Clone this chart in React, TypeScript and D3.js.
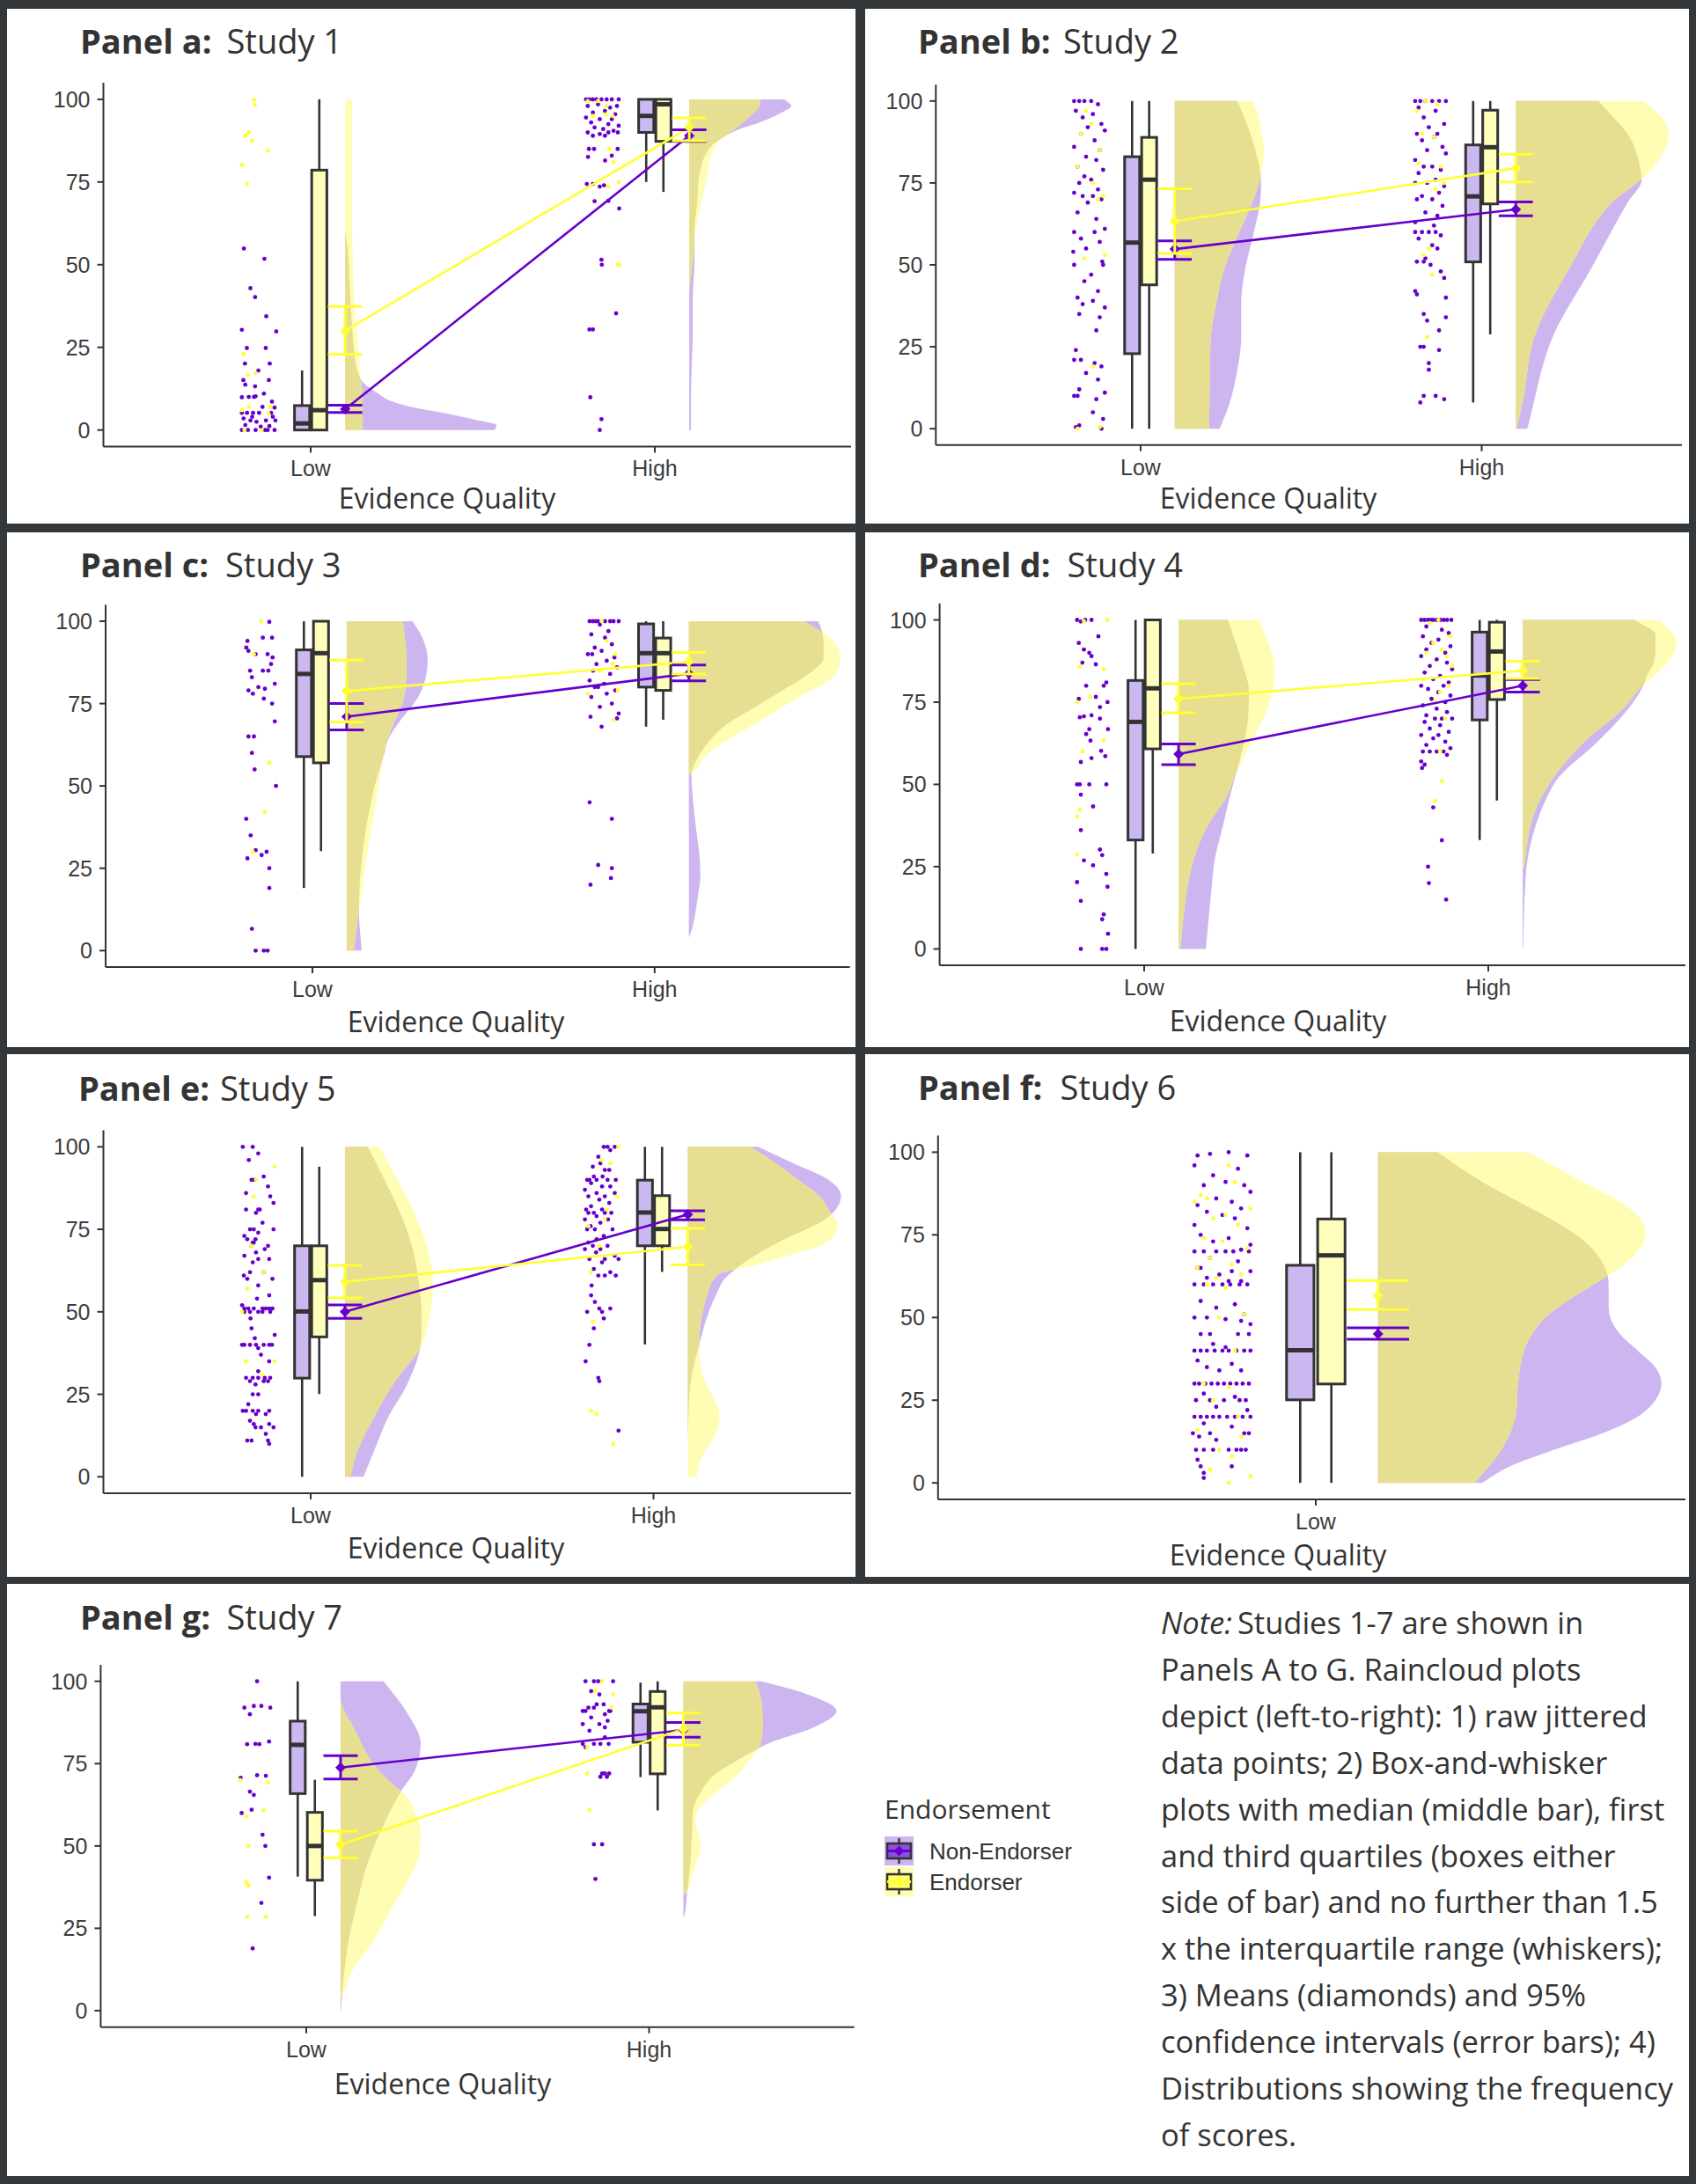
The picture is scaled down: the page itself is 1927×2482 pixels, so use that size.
import React from 'react';
import * as d3 from 'd3';

type P2 = [number, number];

const W = 1927;
const H = 2482;

const CATEGORIES = ['Low', 'High'];
const GROUPS = ['Non-Endorser', 'Endorser'];
const Y_TICKS = [0, 25, 50, 75, 100];
const PANEL_LETTERS = ['a', 'b', 'c', 'd', 'e', 'f', 'g'];
const STUDY_LABELS = ['Study 1', 'Study 2', 'Study 3', 'Study 4', 'Study 5', 'Study 6', 'Study 7'];
const X_TITLE = 'Evidence Quality';
const LEGEND_TITLE = 'Endorsement';
const NOTE_LINES = [
  'Studies 1-7 are shown in',
  'Panels A to G. Raincloud plots',
  'depict (left-to-right): 1) raw jittered',
  'data points; 2) Box-and-whisker',
  'plots with median (middle bar), first',
  'and third quartiles (boxes either',
  'side of bar) and no further than 1.5',
  'x the interquartile range (whiskers);',
  '3) Means (diamonds) and 95%',
  'confidence intervals (error bars); 4)',
  'Distributions showing the frequency',
  'of scores.',
];

// Box stats: [lower whisker, Q1, median, Q3, upper whisker]; order: Low-NonEnd, Low-End, High-NonEnd, High-End
const BOX_A = [[0, 0, 2, 7.4, 18], [0, 0, 6, 78.6, 100], [75, 90, 95, 100, 100], [72, 87.3, 98.5, 100, 100]];
const BOX_B = [[0, 22.9, 56.8, 83, 100], [0, 43.9, 76, 88.9, 100], [8, 50.9, 70.9, 86.6, 100], [28.8, 68.6, 85.9, 97.2, 100]];
const BOX_C = [[19, 58.9, 84, 91.3, 100], [30.2, 57, 90.3, 100, 100], [68, 80, 90.3, 99.2, 100], [70.1, 79, 90.3, 94.9, 100]];
const BOX_D = [[0, 33.1, 69, 81.6, 100], [29, 60.8, 79.2, 100, 100], [33.1, 69.6, 83.1, 96.3, 100], [45.1, 75.8, 90.4, 99.3, 100]];
const BOX_E = [[0, 29.9, 50.1, 70, 100], [25.1, 42.4, 59.6, 70, 94], [40.1, 70, 80.1, 89.9, 100], [62.1, 70, 75.1, 85.2, 100]];
const BOX_F = [[0, 25.1, 40.1, 65.8, 100], [0, 29.9, 68.8, 79.8, 100]];
const BOX_G = [[40.7, 65.9, 80.7, 87.9, 100], [28.7, 39.6, 50, 60.2, 70.1], [70.9, 81.5, 90.9, 93.1, 99.6], [60.8, 71.9, 92.1, 96.9, 100]];

// Means with 95% CI: [mean, lower, upper]
const MEAN_A = [[6.3, 5.3, 7.5], [30, 22.9, 37.4], [89, 87.3, 90.8], [91.5, 87.5, 94.4]];
const MEAN_B = [[54.8, 51.7, 57.3], [63.3, 53.5, 73.2], [66.9, 65, 69.2], [79.5, 75.3, 83.8]];
const MEAN_C = [[71, 67, 75], [78.8, 69.4, 88.2], [84.1, 81.9, 86.7], [87.7, 84, 90.5]];
const MEAN_D = [[59.2, 56, 62.3], [76, 71.8, 80.6], [80, 78.1, 81.9], [84.6, 82.2, 87.4]];
const MEAN_E = [[50, 48, 52.1], [59.1, 54.2, 64.1], [79.5, 77.9, 80.6], [69.7, 64.2, 75.3]];
const MEAN_F = [[45, 43.4, 46.9], [56.6, 52.4, 61.2]];
const MEAN_G = [[73.8, 70.3, 77.4], [50.4, 46.4, 54.5], [85.2, 83, 87.5], [85.5, 80.6, 90.4]];

// Density profiles: [score, density]
const DENS_A: P2[][] = [
  [[0, 170], [1.5, 172], [3, 150], [5, 115], [7, 75], [9, 50], [11, 38], [14, 22], [18, 14], [25, 10], [35, 7], [45, 5], [55, 3], [60, 0]],
  [[0, 20], [10, 20], [15, 18], [20, 16], [25, 15], [30, 13], [40, 10], [50, 9], [60, 8], [100, 8]],
  [[0, 2], [10, 2], [20, 3], [30, 4], [40, 4], [51, 6], [60, 6], [69, 9], [78, 12], [84, 20], [87, 30], [91, 57], [93, 80], [96, 105], [98, 116], [100, 108]],
  [[42, 0], [45, 1.3], [51, 4], [60, 7], [69, 14], [77.6, 21], [84, 26], [87.3, 34], [90.9, 51], [95.3, 71], [98, 80], [100, 81]],
];
const DENS_B: P2[][] = [
  [[0, 51], [7.5, 62], [17.8, 71], [28, 75.5], [38.3, 75.5], [48.6, 80], [58.9, 89], [69.2, 97], [75.3, 98], [84.6, 92], [95, 79], [100, 71]],
  [[0, 39], [17.8, 40], [28, 41], [38, 47], [48.6, 56], [58, 70], [64, 80], [74.3, 95], [84.6, 101], [95, 95], [100, 89]],
  [[0, 13], [28, 42], [48.6, 85], [69, 127], [76, 143], [80, 141], [85, 136], [90, 127], [95, 111], [100, 94]],
  [[0, 1], [10, 9], [28, 21], [48.6, 60], [69, 109], [76, 142], [80, 157], [89.7, 174], [95, 166], [100, 145]],
];
const DENS_C: P2[][] = [
  [[0, 17], [12, 14], [27, 17], [48, 30], [60, 43], [64, 47], [68, 56], [78.4, 84], [88.6, 92], [95, 86], [100, 75]],
  [[0, 8], [12, 14], [27, 22], [48, 35], [63, 45], [68, 52], [78, 66], [88, 68], [100, 64]],
  [[3.9, 0], [7, 4], [17.2, 10.6], [22.3, 13], [27.4, 12.5], [37.6, 8], [47.9, 4], [53.5, 3], [58, 9], [63.2, 22], [68.3, 41], [73.4, 72], [78.5, 103], [83.6, 134], [88.8, 153], [93.9, 153], [98, 150], [100, 147]],
  [[53.5, 4], [54.5, 7], [58, 16], [61.1, 28], [69.3, 78], [76.5, 122], [83.6, 166], [89.8, 172], [95, 160], [100, 131]],
];
const DENS_D: P2[][] = [
  [[0, 31], [17, 37], [27, 41], [37, 50], [47, 59], [52, 64], [60, 72], [68, 78], [78, 80], [88, 71], [100, 56]],
  [[0, 2], [17, 9], [27, 17], [37, 32], [47, 56], [52, 63], [63, 83], [73, 101], [85, 109], [100, 92]],
  [[0, 0.5], [16.7, 2.4], [27, 5.4], [37.2, 14.5], [47.4, 30], [52.5, 42], [62.7, 84], [73, 120], [80, 137], [83, 141], [88, 150], [95.5, 151], [100, 127]],
  [[24.4, 1], [27, 2.4], [37.2, 8.5], [42.3, 14.5], [47.4, 24], [52.5, 36], [62.7, 69], [73, 114], [80, 136], [83.2, 150], [88.3, 168], [93.4, 175], [100, 156]],
];
const DENS_E: P2[][] = [
  [[0, 21], [7.8, 33], [18, 49], [28.2, 71], [40.4, 86], [48.6, 87], [58.8, 84], [69, 77], [79.2, 64], [89.4, 46], [100, 26]],
  [[0, 6], [7.8, 14], [18, 33], [28.2, 55], [39.4, 86], [48.6, 96], [58.8, 100], [69, 94], [79.2, 80], [89.4, 61], [100, 39]],
  [[12, 0], [25, 2], [30, 4], [35, 8], [40, 13], [45, 18], [50, 24], [55, 32], [60, 42], [62, 50], [66, 70], [72, 110], [77, 150], [80, 165], [85, 174], [90, 160], [95, 120], [100, 80]],
  [[0, 10], [3, 12], [8, 20], [12, 30], [17, 36], [20, 35], [25, 27], [30, 18], [35, 14], [40, 13], [45, 14], [50, 17], [55, 22], [60, 30], [62, 40], [64, 75], [66, 100], [70, 150], [74, 168], [77, 170], [80, 162], [85, 150], [90, 125], [95, 100], [100, 71]],
];
const DENS_F: P2[][] = [
  [[0, 118], [5, 150], [10, 200], [15, 255], [20, 295], [25, 315], [30, 322], [35, 315], [40, 295], [45, 275], [50, 264], [55, 262], [60, 262], [65, 258], [70, 246], [75, 225], [80, 195], [85, 160], [90, 125], [95, 95], [100, 68]],
  [[0, 110], [10, 140], [20, 156], [30, 159], [40, 166], [45, 175], [50, 190], [55, 215], [60, 245], [65, 275], [70, 295], [75, 304], [80, 298], [85, 275], [90, 240], [95, 205], [100, 171]],
];
const DENS_G: P2[][] = [
  [[0, 0.5], [9, 3], [21, 9], [33, 19], [45, 31], [57, 50], [66.7, 69], [72.7, 84], [81, 91], [90.7, 75], [100, 49]],
  [[4, 0], [5, 3], [11.7, 12.5], [21, 37], [33, 62], [45, 87], [53.6, 91], [60, 85], [66, 72], [68, 62], [75, 37], [87.1, 12.5], [90, 6], [94, 0]],
  [[28, 0], [30, 2], [35, 4], [40, 6], [45, 8], [50, 9], [55, 10], [60.8, 11], [65.6, 18], [71.5, 35], [75, 55], [78.7, 79], [81.3, 98], [86, 148], [91, 174], [96.5, 136], [100, 89]],
  [[35, 0], [36, 4], [40, 9], [45, 15], [50, 20], [55, 16], [58, 14], [62, 20], [65.6, 34], [68, 45], [71.5, 61], [75, 72], [80, 86], [87, 90], [95, 88], [100, 82]],
];

// Raw points: [jitter (-1..1), score]
const PTS_A: P2[][] = [
  [[-0.88, 54.9], [0.31, 51.8], [-0.5, 42.9], [-0.23, 40.2], [0.42, 34.4], [-1, 30.3], [1, 29.8], [-0.71, 24.8], [0.39, 24.8], [-0.82, 20.1], [0.62, 20.1], [-0.04, 18], [-0.91, 15.1], [0.57, 15.1], [-0.23, 13.2], [-0.8, 13.7], [0.28, 11], [-0.6, 10], [-0.3, 10], [-0.2, 10.2], [-1, 9.9], [0.75, 8.6], [0.9, 6.8], [-1, 5.2], [-0.7, 5.2], [-0.35, 5.2], [0, 5.2], [0.7, 5.2], [-0.5, 2.9], [-0.15, 2.5], [0.4, 2.9], [0.95, 2.9], [-1, 0], [-0.65, 0], [-0.2, 0], [0.35, 0], [0.9, 0], [-0.8, 1.5], [0.1, 1], [0.6, 1.2], [-0.4, 4], [0.2, 7], [-0.9, 3.5], [0.8, 4], [0.5, 0]],
  [[-0.3, 99.9], [-0.25, 98.3], [-0.6, 90], [-0.8, 89], [-0.4, 87.5], [0.5, 84.5], [-1, 80.2], [-0.7, 74.4], [-0.9, 23], [-0.65, 16.7], [-0.2, 17.2], [-1, 6], [-0.6, 7], [0.55, 5], [0.65, 7], [-0.85, 0], [0.15, 0]],
  [[-1, 100], [-0.8, 100], [-0.6, 100], [-0.4, 100], [-0.1, 100], [0.2, 100], [0.5, 100], [0.9, 100], [-0.9, 98], [-0.3, 98.5], [0.4, 97.5], [0.8, 98], [-0.6, 96], [0.1, 96.5], [0.7, 95.5], [-1, 94.5], [-0.2, 94], [0.5, 94], [-0.7, 93], [0.3, 92.5], [0.9, 92], [-0.5, 91.5], [0, 91], [0.6, 90.5], [-0.9, 90], [-0.2, 89.5], [0.3, 90], [0.85, 90], [-0.6, 89], [0.1, 89], [-0.83, 85], [-0.53, 85], [0.84, 85], [-0.88, 82.6], [0.11, 81.5], [0.5, 83], [-0.95, 74.4], [-0.6, 74.4], [-0.2, 73.6], [0.05, 74], [-0.5, 69.2], [0.3, 69.3], [0.93, 67], [-0.1, 51.5], [-0.08, 50], [0.75, 35.3], [-0.8, 30.4], [-0.6, 30.4], [-0.75, 9.9], [-0.1, 3.3], [-0.2, 0]],
  [[-0.9, 99.5], [-0.3, 99.5], [0.2, 98], [-0.6, 95], [0.15, 95.5], [0.55, 95], [0.35, 85], [0.6, 81], [0.9, 75], [0.3, 73.6], [0.85, 50], [0.95, 50]],
];
const PTS_B: P2[][] = [
  [[-0.9, 100], [-0.6, 100], [-0.3, 100], [0.1, 100], [0.5, 99], [-0.8, 97], [0.2, 96], [-0.4, 95], [0.7, 93], [-0.1, 92], [0.9, 91], [-0.5, 90], [0.3, 88], [-0.9, 86], [0.6, 85], [-0.2, 83], [0.4, 82], [-0.7, 80], [0.8, 79], [-0.3, 77], [0.1, 76], [-0.6, 75], [0.5, 73], [-0.9, 72], [-0.4, 71], [0.2, 71], [0.7, 70], [-0.1, 69], [-0.7, 66], [0.4, 64], [0.9, 61], [-0.9, 60], [0.3, 60], [-0.5, 58], [0.6, 57], [-0.2, 55], [-0.95, 54], [0.75, 51], [-0.9, 50], [0.8, 50], [0.1, 47], [-0.3, 45], [0.5, 42], [-0.7, 40], [0.2, 39], [-0.4, 38], [0.9, 37], [-0.6, 35], [0.6, 34], [0.4, 30], [-0.8, 24], [-0.9, 21], [-0.5, 21], [0.3, 20], [0.7, 19], [-0.2, 17], [0.5, 15], [-0.6, 12], [0.9, 11], [-0.9, 10], [-0.7, 10], [0.4, 9], [0.2, 5], [0.8, 3], [-0.6, 1], [0.7, 0], [-0.8, 0.5]],
  [[-0.2, 97], [0.1, 93], [-0.5, 90], [0.6, 85], [-0.7, 80], [0.2, 75], [0.8, 71], [0.5, 70], [-0.3, 52], [0.9, 53], [0.2, 19], [-0.7, 0], [0.6, 0.5]],
  [[-0.9, 100], [-0.6, 100], [-0.3, 100], [0.1, 100], [0.5, 100], [0.9, 100], [-0.7, 98], [0.3, 97], [-0.4, 95], [0.8, 93], [-0.1, 92], [-0.8, 90], [0.4, 90], [0.2, 89], [-0.5, 88], [0.7, 86], [-0.2, 85], [0.9, 84], [-0.9, 82], [0.1, 80], [-0.4, 80], [0.6, 79], [-0.7, 78], [0.3, 76], [-0.9, 75], [-0.2, 75], [0.8, 74], [0.5, 72], [-0.5, 71], [-0.8, 70], [0.1, 70], [0.7, 68], [-0.3, 66], [0.4, 65], [-0.9, 63], [0.2, 62], [-0.9, 60], [-0.5, 60], [-0.1, 60], [0.3, 60], [0.6, 59], [-0.7, 58], [0.1, 56], [0.4, 55], [-0.3, 52], [-0.8, 51], [-0.4, 51], [0, 50], [0.6, 48], [0.8, 46], [-0.9, 42], [-0.8, 41], [0.9, 40], [-0.4, 35], [0.9, 34], [-0.2, 33], [0.5, 30], [-0.6, 25], [-0.4, 25], [0.5, 24], [-0.1, 20], [-0.1, 18], [0.3, 10], [-0.4, 10], [0.8, 9], [-0.6, 8]],
  [[-0.3, 100], [0.4, 99], [-0.8, 97], [-0.5, 90], [0.2, 89], [-0.7, 81], [0.6, 80], [0.8, 75], [0.3, 73], [-0.1, 55], [-0.4, 53], [0.1, 47], [-0.2, 28]],
];
const PTS_C: P2[][] = [
  [[0.48, 99.8], [0.1, 95], [0.64, 95], [-0.8, 94], [-0.87, 92], [-0.74, 91], [0.38, 90], [-0.32, 90], [0.67, 89], [0.58, 87], [-0.64, 85], [0.1, 85], [0.42, 85], [-0.54, 83], [-0.16, 80], [0.22, 79.5], [-0.74, 79], [-0.48, 78], [0.8, 81], [0.16, 76.5], [0.64, 75], [0.8, 69.6], [-0.74, 65], [-0.42, 65], [-0.54, 60], [-0.38, 55], [0.87, 50], [-0.87, 40], [-0.61, 35], [-0.8, 28], [0.03, 29], [0.32, 30], [-0.32, 30.5], [0.48, 25], [0.48, 19], [-0.54, 6.6], [-0.32, 0], [0.16, 0], [0.38, 0]],
  [[0, 100], [-0.42, 90], [0.48, 57], [0.22, 42], [-0.48, 30]],
  [[-0.8, 100], [-0.6, 100], [-0.45, 100], [-0.3, 100], [0.1, 100], [0.4, 100], [0.6, 100], [0.9, 100], [-0.2, 99], [0.3, 97], [-0.7, 96], [0.1, 95], [0.5, 93], [-0.5, 92], [-0.1, 91], [-0.9, 90], [-0.65, 90], [0.65, 89], [0.2, 88], [-0.4, 87], [0.8, 86], [-0.6, 85], [0.4, 84], [-0.8, 82], [0.05, 81], [-0.5, 80], [-0.3, 80], [0.7, 79], [0.2, 78], [-0.7, 77], [0.5, 75], [-0.2, 74], [0.9, 72], [-0.75, 71], [0.8, 70.5], [-0.1, 68], [-0.8, 45], [0.5, 40], [-0.3, 26], [0.5, 25], [0.45, 22], [-0.75, 20]],
  [[-0.1, 100], [0.2, 94], [0.7, 90], [0.55, 87], [-0.2, 85], [0.85, 79], [-0.9, 78], [0.6, 70]],
];
const PTS_D: P2[][] = [
  [[-0.9, 100], [-0.68, 99.5], [-0.43, 100], [-0.06, 100], [0.34, 95], [-0.8, 93], [-0.5, 91], [-0.19, 90], [-0.06, 89], [-0.59, 87], [0.19, 86.5], [-0.37, 80], [0.65, 80], [0.8, 81], [-0.8, 76], [0.19, 76.6], [0.87, 75], [0.43, 73.5], [-0.74, 70.4], [-0.5, 70.7], [-0.06, 71], [0.43, 70], [-0.19, 66.8], [0.9, 66.8], [-0.37, 65.3], [-0.12, 63.3], [0.5, 60.2], [0.74, 58.6], [-0.68, 56.8], [-0.06, 58], [-0.9, 50], [-0.74, 50], [-0.19, 50], [0.8, 50], [-0.68, 46.9], [0.03, 43.3], [-0.68, 36.1], [0.43, 30.2], [-0.5, 26.9], [0.03, 25.4], [0.56, 28.5], [0.8, 22.8], [-0.9, 20.3], [0.87, 18.9], [-0.68, 14.6], [0.65, 10.5], [0.56, 9], [0.9, 4.6], [-0.68, 0], [0.56, 0], [0.8, 0]],
  [[0.87, 100], [-0.5, 99.6], [0.65, 85], [-0.74, 85.8], [-0.12, 76.6], [-0.9, 75], [0.65, 63.3], [-0.59, 60], [-0.9, 40.2], [-0.74, 42.3], [-0.9, 28.7]],
  [[-0.9, 100], [-0.7, 100], [-0.5, 100], [-0.35, 100], [-0.2, 100], [0, 100], [0.2, 100], [0.4, 100], [0.6, 100], [0.85, 100], [-0.6, 98], [0.3, 97], [0.7, 96], [-0.8, 95], [0.1, 94], [-0.3, 93], [0.8, 92], [-0.6, 91], [0.5, 90], [-0.9, 89], [0, 88], [0.6, 87], [-0.4, 86], [0.9, 85], [-0.7, 84], [0.2, 83], [-0.2, 82], [0.7, 81], [-0.9, 80], [0.4, 80], [-0.5, 79], [0.1, 78], [0.8, 77], [-0.3, 76], [0.5, 75], [-0.8, 74], [0, 73], [0.6, 72], [-0.6, 71], [0.3, 70], [-0.1, 70], [0.9, 70], [-0.7, 69], [0.2, 68], [-0.4, 67], [0.7, 66], [-0.9, 65], [0.1, 65], [-0.2, 64], [0.5, 63], [-0.6, 62], [0.8, 61], [-0.8, 60], [-0.4, 60], [0, 60], [0.4, 60], [0.6, 59], [-0.9, 57], [-0.7, 56], [-0.85, 55], [-0.2, 43], [0.3, 33], [-0.5, 25], [-0.45, 20], [0.55, 15]],
  [[0.1, 100], [-0.4, 99], [0.8, 95], [-0.2, 93], [0.3, 91], [-0.6, 90], [0.6, 89], [0.9, 86], [-0.8, 82], [0.7, 80], [0.2, 78], [-0.1, 75], [0.5, 70], [0.2, 60], [0.3, 51], [-0.1, 45]],
];
const PTS_E: P2[][] = [
  [[-0.96, 100], [-0.38, 100], [-0.06, 98], [-0.61, 96], [0.26, 91], [-0.45, 90], [-0.32, 90], [0.51, 88], [-0.77, 86], [0.64, 85], [0.83, 83], [-0.77, 81], [-0.06, 81], [0.03, 81], [-0.19, 80], [0.19, 77], [-0.54, 75], [-0.32, 75], [0.83, 75], [-0.06, 74], [-0.87, 73], [-0.7, 72], [-0.22, 72], [-0.38, 71], [-0.32, 71], [-0.45, 70], [0.51, 70], [0.32, 69], [-0.19, 68], [-0.87, 67], [-0.06, 66], [0.58, 66], [-0.38, 65], [0.26, 62], [-0.54, 62], [-0.9, 61], [-0.7, 60], [0.77, 60], [-0.06, 58], [0.58, 55], [-0.13, 54], [-1, 52], [-0.87, 51], [-0.64, 51], [-0.32, 51], [0.19, 51], [0.38, 51], [0.58, 51], [0.77, 51], [-0.87, 50], [-0.54, 50], [-0.06, 50], [0.19, 50], [0.64, 50], [-0.51, 48], [-0.45, 45], [0.9, 43], [-0.26, 42], [-1, 40], [-0.87, 40], [-0.54, 40], [-0.19, 40], [0.26, 40], [0.58, 40], [0.74, 40], [-0.06, 39], [0.1, 37], [0.58, 35], [-0.06, 32], [-0.77, 30], [-0.38, 30], [-0.06, 30], [0.32, 30], [0.64, 30], [-0.54, 29], [0.26, 29], [0.51, 29], [-0.22, 28], [-0.38, 25], [-0.06, 25], [-0.64, 22], [-0.96, 20], [-0.77, 20], [-0.38, 20], [-0.06, 20], [0.58, 20], [-0.19, 19], [0.38, 19], [-0.54, 17], [-0.32, 16], [0.58, 16], [-0.22, 15], [0.1, 15], [0.83, 15], [0.38, 13], [-0.7, 11], [-0.45, 11], [0.51, 11], [0.58, 10]],
  [[0.9, 94], [-0.19, 90], [-0.32, 85], [-0.45, 70], [0.26, 62], [-0.7, 57], [-1, 50], [-0.77, 35], [0.19, 31], [0.9, 35]],
  [[0.1, 100], [0.32, 100], [0.74, 100], [0.48, 99], [-0.22, 97], [-0.1, 95], [-0.54, 94], [0.16, 93], [0.42, 93], [-0.48, 91], [0.03, 91], [-0.87, 90], [-0.74, 90], [-0.32, 90], [0.32, 90], [0.8, 90], [-0.64, 89], [0, 88], [0.48, 88], [-1, 87], [-0.32, 86], [0.74, 86], [-0.8, 85], [0.16, 85], [-0.16, 84], [0.42, 83], [-0.64, 82], [-0.93, 81], [0, 81], [-0.8, 80], [-0.48, 80], [0.16, 80], [0.54, 80], [-0.32, 79], [-1, 78], [0.35, 78], [-0.1, 77], [-0.67, 76], [-0.87, 75], [-0.42, 75], [0.61, 75], [0.1, 73], [-0.32, 72], [-0.8, 71], [-0.54, 70], [0.32, 70], [-1, 69], [-0.1, 69], [-0.35, 68], [0.74, 67], [-0.74, 66], [0.16, 66], [0.96, 66], [0, 65], [-0.48, 63], [0.48, 62], [-0.22, 61], [0.16, 61], [0.8, 61], [-0.61, 58], [-0.64, 55], [-0.42, 53], [-0.16, 51], [0.48, 51], [-0.87, 50], [0, 50], [0.1, 48], [-0.48, 45], [-0.74, 40], [-0.96, 35], [-0.22, 30], [-0.16, 29], [0.96, 14]],
  [[0.96, 100], [-0.03, 96], [0.48, 95], [0.87, 85], [0.29, 81], [0.16, 78], [-0.8, 76], [-0.16, 70], [-0.64, 62], [-0.54, 47], [-0.64, 20], [-0.32, 19], [0.64, 10]],
];
const PTS_F: P2[][] = [
  [[-0.8, 99], [-0.4, 99.5], [0.2, 100], [0.8, 99], [-0.9, 96], [0.5, 95], [-0.3, 93], [0.1, 91], [-0.6, 90], [0.7, 90], [0.9, 88], [-0.2, 86], [0.3, 85], [-0.8, 84], [0.6, 83], [-0.5, 82], [0, 81], [0.4, 80], [-0.9, 78], [0.8, 77], [-0.7, 75], [0.2, 74], [-0.3, 73], [0.9, 72], [-0.9, 70], [-0.6, 70], [-0.2, 70], [0.1, 70], [0.35, 70], [0.6, 70.5], [0.85, 70], [-0.4, 68], [0.5, 67], [-0.8, 65], [-0.7, 65], [0.3, 64], [0.9, 64], [-0.1, 63], [-0.5, 62], [0.2, 61], [0.6, 61], [-0.9, 60], [-0.6, 60], [-0.3, 60], [0, 60], [0.25, 60], [0.55, 60], [0.8, 60], [-0.7, 55], [0.4, 54], [-0.2, 53], [0.7, 51], [-0.9, 50], [-0.5, 50], [0.1, 49.5], [0.6, 49], [0.9, 48], [-0.7, 45], [-0.4, 45], [0.5, 45], [0.85, 45], [-0.3, 42], [0.1, 41], [-0.9, 40], [-0.7, 40], [-0.5, 40], [-0.25, 40], [0, 40], [0.2, 40], [0.45, 40], [0.7, 40], [0.9, 40], [-0.8, 37], [0.3, 36], [-0.5, 35], [0.6, 34], [-0.1, 34], [-0.9, 30], [-0.75, 30], [-0.55, 30], [-0.35, 30], [-0.15, 30], [0.05, 30], [0.25, 30], [0.45, 30], [0.65, 30], [0.85, 30], [-0.6, 27], [0.4, 26], [-0.85, 25], [-0.4, 25], [0.05, 25], [0.55, 25], [0.75, 25], [-0.2, 23], [0.8, 22], [-0.9, 20], [-0.7, 20], [-0.5, 20], [-0.3, 20], [-0.1, 20], [0.15, 20], [0.4, 20], [0.65, 20], [0.9, 20], [-0.6, 18], [0.3, 17], [-0.95, 15], [-0.4, 15], [0.7, 15], [0.85, 15], [-0.75, 14], [-0.2, 13], [-0.85, 10], [-0.6, 10], [-0.3, 10], [0.2, 10], [0.45, 10], [0.6, 10], [0.75, 10], [-0.8, 7], [-0.7, 5], [0.3, 5], [-0.6, 3], [-0.6, 1.5]],
  [[0.2, 96], [-0.7, 87], [-0.5, 86], [0.4, 91], [-0.3, 80], [0.1, 81], [0.5, 78], [-0.9, 85], [0.9, 83], [-0.6, 74], [0, 73], [0.8, 71], [-0.4, 68], [0.3, 66], [-0.8, 65], [0.6, 63], [-0.2, 62], [0.1, 59], [-0.5, 60], [0.7, 51], [-0.1, 50], [0.4, 40], [-0.6, 30], [0.2, 29], [-0.3, 25], [0.5, 20], [-0.8, 16], [0.6, 14], [-0.1, 10], [0.3, 8], [-0.4, 4], [0.9, 2], [0.2, 0]],
];
const PTS_G: P2[][] = [
  [[0.13, 100], [-0.61, 92], [-0.06, 92.5], [0.38, 92.5], [0.9, 92], [-0.29, 90], [-0.45, 80.9], [0.03, 81], [0.26, 80.9], [0.83, 81.7], [0.13, 71.5], [0.64, 71.3], [-0.83, 70.7], [-0.29, 66.5], [-0.06, 65.5], [-0.77, 60], [-0.19, 61], [0.45, 53.4], [0.61, 50], [0.83, 40.4], [0.38, 32.7], [-0.13, 18.9]],
  [[-0.86, 70], [0.77, 69.4], [-0.51, 59], [0.51, 60.8], [-0.38, 50], [-0.51, 39], [-0.38, 38], [-0.45, 28.5], [0.64, 28.5]],
  [[-0.71, 100], [-0.22, 100], [0.03, 100], [0.9, 100], [-0.38, 97], [0.1, 96], [0.35, 93], [-0.06, 93], [-0.54, 92], [-0.22, 92], [-0.87, 91], [-0.71, 91], [0.74, 91], [0.67, 91], [0.42, 90], [-0.38, 89], [0.58, 88], [-0.87, 87], [0.1, 87], [0.42, 86], [-0.48, 85], [0.42, 83], [-0.87, 81], [-0.22, 81], [0.16, 81], [0.64, 81], [-0.71, 80], [0.26, 72], [0.42, 72], [0.67, 72], [0.16, 71], [0.54, 71], [-0.22, 50.5], [0.26, 50.5], [-0.13, 40]],
  [[0.26, 100], [-0.13, 97], [0.9, 96], [0.8, 92], [-0.61, 80], [-0.61, 72], [-0.48, 61]],
];

// ---- styling ----
const COL = {
  bg: '#35383a',
  text: '#333333',
  tick: '#3c3c3c',
  axis: '#333333',
  purple: '#6600cc',
  yellow: '#ffff33',
  pBox: '#ccb8f0',
  yBox: '#ffffbb',
  pViol: '#cdb6f0',
  yViol: '#fffdb4',
  both: '#e6de90',
};
const SANS = "'Open Sans', 'Noto Sans', sans-serif";
const ARIAL = "'Liberation Sans', Arial, sans-serif";

interface Layout {
  left: number; right: number; y0: number; y100: number;
  lowX: number; u: number; cats: number;
  titleX: number; studyX: number; titleY: number;
  xtX: number; xtY: number; densRef: number;
  box: number[][]; mean: number[][]; dens: P2[][]; pts: P2[][];
}

const LAYOUTS: Layout[] = [
  { left: 117.5, right: 967, y0: 488.7, y100: 112.9, lowX: 353, u: 391, cats: 2, titleX: 91, studyX: 257.5, titleY: 61, xtX: 508, xtY: 578, densRef: 391, box: BOX_A, mean: MEAN_A, dens: DENS_A, pts: PTS_A },
  { left: 1063.3, right: 1911, y0: 487.2, y100: 114.8, lowX: 1296, u: 387.5, cats: 2, titleX: 1043, studyX: 1208, titleY: 61, xtX: 1441, xtY: 578, densRef: 387.5, box: BOX_B, mean: MEAN_B, dens: DENS_B, pts: PTS_B },
  { left: 120, right: 965.6, y0: 1080.3, y100: 706, lowX: 355, u: 388.8, cats: 2, titleX: 91, studyX: 256, titleY: 656, xtX: 518, xtY: 1173, densRef: 388.8, box: BOX_C, mean: MEAN_C, dens: DENS_C, pts: PTS_C },
  { left: 1067.6, right: 1915, y0: 1078.4, y100: 704.5, lowX: 1300, u: 391, cats: 2, titleX: 1043, studyX: 1212.5, titleY: 656, xtX: 1452, xtY: 1172, densRef: 391, box: BOX_D, mean: MEAN_D, dens: DENS_D, pts: PTS_D },
  { left: 117.5, right: 967, y0: 1678.3, y100: 1303.3, lowX: 353, u: 389.5, cats: 2, titleX: 89, studyX: 250, titleY: 1250.5, xtX: 518, xtY: 1771, densRef: 389.5, box: BOX_E, mean: MEAN_E, dens: DENS_E, pts: PTS_E },
  { left: 1065.8, right: 1915, y0: 1685.2, y100: 1309.4, lowX: 1495, u: 707, cats: 1, titleX: 1043, studyX: 1204.6, titleY: 1250, xtX: 1452, xtY: 1779, densRef: 707, box: BOX_F, mean: MEAN_F, dens: DENS_F, pts: PTS_F },
  { left: 114.4, right: 970.6, y0: 2285, y100: 1910.7, lowX: 348, u: 389.5, cats: 2, titleX: 91, studyX: 257.5, titleY: 1851.6, xtX: 503, xtY: 2380, densRef: 389.5, box: BOX_G, mean: MEAN_G, dens: DENS_G, pts: PTS_G },
];

const WHITE_RECTS = [
  [8, 10, 964, 585], [983, 10, 936, 585],
  [8, 605, 964, 585], [983, 605, 936, 585],
  [8, 1198, 964, 594], [983, 1198, 936, 594],
  [8, 1800, 1911, 673],
];

// monotone cubic interpolation (Fritsch-Carlson)
function monotone(pts: P2[]) {
  const n = pts.length;
  const xs = pts.map((p) => p[0]);
  const ys = pts.map((p) => p[1]);
  if (n === 1) return () => ys[0];
  const d: number[] = [];
  const m: number[] = new Array(n).fill(0);
  for (let i = 0; i < n - 1; i++) d.push((ys[i + 1] - ys[i]) / (xs[i + 1] - xs[i]));
  m[0] = d[0];
  m[n - 1] = d[n - 2];
  for (let i = 1; i < n - 1; i++) m[i] = d[i - 1] * d[i] <= 0 ? 0 : (d[i - 1] + d[i]) / 2;
  for (let i = 0; i < n - 1; i++) {
    if (d[i] === 0) { m[i] = 0; m[i + 1] = 0; continue; }
    const a = m[i] / d[i];
    const b = m[i + 1] / d[i];
    const s = a * a + b * b;
    if (s > 9) {
      const t = 3 / Math.sqrt(s);
      m[i] = t * a * d[i];
      m[i + 1] = t * b * d[i];
    }
  }
  return (v: number) => {
    if (v <= xs[0]) return ys[0];
    if (v >= xs[n - 1]) return ys[n - 1];
    let i = 0;
    while (v > xs[i + 1]) i++;
    const h = xs[i + 1] - xs[i];
    const t = (v - xs[i]) / h;
    const t2 = t * t;
    const t3 = t2 * t;
    return (2 * t3 - 3 * t2 + 1) * ys[i] + (t3 - 2 * t2 + t) * h * m[i] + (-2 * t3 + 3 * t2) * ys[i + 1] + (t3 - t2) * h * m[i + 1];
  };
}

function areaPath(lo: number, hi: number, f: (v: number) => number, x0: number, k: number, y: (v: number) => number) {
  if (hi <= lo) return '';
  const steps = Math.max(2, Math.ceil((hi - lo) / 0.25));
  const pts: [number, number][] = [];
  for (let i = 0; i <= steps; i++) {
    const v = lo + ((hi - lo) * i) / steps;
    pts.push([x0 + Math.max(0, f(v)) * k, y(v)]);
  }
  const line = d3.line();
  const full: [number, number][] = [[x0, y(lo)], ...pts, [x0, y(hi)]];
  return line(full) + 'Z';
}

function Violins({ pd, yd, x0, k, y }: { pd: P2[]; yd: P2[]; x0: number; k: number; y: (v: number) => number }) {
  const fp = monotone(pd);
  const fy = monotone(yd);
  const pLo = pd[0][0], pHi = pd[pd.length - 1][0];
  const yLo = yd[0][0], yHi = yd[yd.length - 1][0];
  const bLo = Math.max(pLo, yLo), bHi = Math.min(pHi, yHi);
  return (
    <g>
      <path d={areaPath(pLo, pHi, fp, x0, k, y)} fill={COL.pViol} />
      <path d={areaPath(yLo, yHi, fy, x0, k, y)} fill={COL.yViol} />
      <path d={areaPath(bLo, bHi, (v) => Math.min(fp(v), fy(v)), x0, k, y)} fill={COL.both} />
    </g>
  );
}

function Panel({ L, idx }: { L: Layout; idx: number }) {
  const x = d3.scaleLinear().domain([1, 2]).range([L.lowX, L.lowX + L.u]);
  const y = d3.scaleLinear().domain([0, 100]).range([L.y0, L.y100]);
  const u = L.u;
  const k = u / L.densRef;
  const axisY = y(-5);
  const topY = y(105);
  const cats = CATEGORIES.slice(0, L.cats);
  const ptR = 2.4;
  const boxW = 0.044 * u;
  const meanOff = 0.1 * u;
  const capHalf = 0.05 * u;

  const diamond = (cx: number, cy: number, s: number) => `M${cx},${cy - s}L${cx + s},${cy}L${cx},${cy + s}L${cx - s},${cy}Z`;

  return (
    <g>
      {cats.map((c, ci) => (
        <Violins key={'v' + c} pd={L.dens[ci * 2]} yd={L.dens[ci * 2 + 1]} x0={x(ci + 1) + meanOff} k={k} y={y} />
      ))}
      {cats.map((c, ci) => (
        <g key={'p' + c}>
          {[0, 1].map((g) => (
            <g key={g} fill={g === 0 ? COL.purple : COL.yellow}>
              {L.pts[ci * 2 + g].map((p, i) => (
                <circle key={i} cx={x(ci + 1) - 0.15 * u + p[0] * 0.05 * u} cy={y(p[1])} r={ptR} />
              ))}
            </g>
          ))}
        </g>
      ))}
      {cats.map((c, ci) => (
        <g key={'b' + c}>
          {[0, 1].map((g) => {
            const s = L.box[ci * 2 + g];
            const cx = x(ci + 1) + (g === 0 ? -0.025 : 0.025) * u;
            return (
              <g key={g}>
                <line x1={cx} x2={cx} y1={y(s[0])} y2={y(s[1])} stroke={COL.axis} strokeWidth={2.6} />
                <line x1={cx} x2={cx} y1={y(s[3])} y2={y(s[4])} stroke={COL.axis} strokeWidth={2.6} />
                <rect x={cx - boxW / 2} y={y(s[3])} width={boxW} height={Math.max(0.5, y(s[1]) - y(s[3]))}
                  fill={g === 0 ? COL.pBox : COL.yBox} stroke={COL.axis} strokeWidth={3} />
                <line x1={cx - boxW / 2} x2={cx + boxW / 2} y1={y(s[2])} y2={y(s[2])} stroke={COL.axis} strokeWidth={5} />
              </g>
            );
          })}
        </g>
      ))}
      {L.cats === 2 && [0, 1].map((g) => (
        <line key={'ml' + g} x1={x(1) + meanOff} y1={y(L.mean[g][0])} x2={x(2) + meanOff} y2={y(L.mean[2 + g][0])}
          stroke={g === 0 ? COL.purple : COL.yellow} strokeWidth={2.6} />
      ))}
      {cats.map((c, ci) => (
        <g key={'e' + c}>
          {[0, 1].map((g) => {
            const m = L.mean[ci * 2 + g];
            const cx = x(ci + 1) + meanOff;
            const col = g === 0 ? COL.purple : COL.yellow;
            return (
              <g key={g} stroke={col} strokeWidth={3}>
                <line x1={cx} x2={cx} y1={y(m[1])} y2={y(m[2])} />
                <line x1={cx - capHalf} x2={cx + capHalf} y1={y(m[1])} y2={y(m[1])} />
                <line x1={cx - capHalf} x2={cx + capHalf} y1={y(m[2])} y2={y(m[2])} />
                <path d={diamond(cx, y(m[0]), 6)} fill={col} stroke="none" />
              </g>
            );
          })}
        </g>
      ))}
      <line x1={L.left} x2={L.left} y1={topY} y2={axisY} stroke={COL.axis} strokeWidth={2} />
      <line x1={L.left} x2={L.right} y1={axisY} y2={axisY} stroke={COL.axis} strokeWidth={2} />
      {Y_TICKS.map((t) => (
        <g key={'yt' + t}>
          <line x1={L.left - 7} x2={L.left} y1={y(t)} y2={y(t)} stroke={COL.axis} strokeWidth={2} />
          <text x={L.left - 15} y={y(t)} dy="0.36em" textAnchor="end" fontFamily={ARIAL} fontSize={25} fill={COL.tick}>{t}</text>
        </g>
      ))}
      {cats.map((c, ci) => (
        <g key={'xt' + c}>
          <line x1={x(ci + 1)} x2={x(ci + 1)} y1={axisY} y2={axisY + 7} stroke={COL.axis} strokeWidth={2} />
          <text x={x(ci + 1)} y={axisY + 34} textAnchor="middle" fontFamily={ARIAL} fontSize={25} fill={COL.tick}>{c}</text>
        </g>
      ))}
      <text x={L.xtX} y={L.xtY} textAnchor="middle" fontFamily={SANS} fontSize={32} fill={COL.text}>{X_TITLE}</text>
      <text x={L.titleX} y={L.titleY} fontFamily={SANS} fontSize={38} fontWeight={700} fill={COL.text}>{`Panel ${PANEL_LETTERS[idx]}:`}</text>
      <text x={L.studyX} y={L.titleY} fontFamily={SANS} fontSize={38} fill={COL.text}>{STUDY_LABELS[idx]}</text>
    </g>
  );
}

function LegendKey({ x, y, g }: { x: number; y: number; g: number }) {
  const s = 33;
  const cx = x + s / 2;
  const cy = y + s / 2;
  const col = g === 0 ? COL.purple : COL.yellow;
  return (
    <g>
      <rect x={x} y={y} width={s} height={s} fill={g === 0 ? COL.pViol : COL.yViol} />
      <line x1={cx} x2={cx} y1={y + 2} y2={y + s - 2} stroke={COL.axis} strokeWidth={2.4} />
      <rect x={x + 3} y={y + 8} width={s - 6} height={s - 16} fill={g === 0 ? '#8a52d8' : '#ffff66'} stroke={COL.axis} strokeWidth={2.6} />
      <line x1={x + 3} x2={x + s - 3} y1={cy} y2={cy} stroke={col} strokeWidth={3} />
      <path d={`M${cx},${cy - 6}L${cx + 6},${cy}L${cx},${cy + 6}L${cx - 6},${cy}Z`} fill={col} />
    </g>
  );
}

export default function App() {
  return (
    <div style={{ position: 'absolute', left: 0, top: 0, width: W, height: H }}>
      <svg width={W} height={H} viewBox={`0 0 ${W} ${H}`} xmlns="http://www.w3.org/2000/svg" style={{ display: 'block' }}>
        <rect x={0} y={0} width={W} height={H} fill={COL.bg} />
        {WHITE_RECTS.map((r, i) => (
          <rect key={i} x={r[0]} y={r[1]} width={r[2]} height={r[3]} fill="#ffffff" />
        ))}
        {LAYOUTS.map((L, i) => (
          <Panel key={i} L={L} idx={i} />
        ))}
        <text x={1005} y={2067} fontFamily={SANS} fontSize={30} fill={COL.text}>{LEGEND_TITLE}</text>
        {GROUPS.map((g, i) => (
          <g key={g}>
            <LegendKey x={1005} y={2087 + i * 35} g={i} />
            <text x={1056} y={2113 + i * 35} fontFamily={ARIAL} fontSize={26} fill={COL.text}>{g}</text>
          </g>
        ))}
        {NOTE_LINES.map((ln, i) => (
          <text key={i} x={1319} y={1857 + i * 52.9} fontFamily={SANS} fontSize={34.5} fill={COL.text}>
            {i === 0 ? (
              <>
                <tspan fontStyle="italic">Note:</tspan>
                <tspan dx={6}>{ln}</tspan>
              </>
            ) : ln}
          </text>
        ))}
      </svg>
    </div>
  );
}
